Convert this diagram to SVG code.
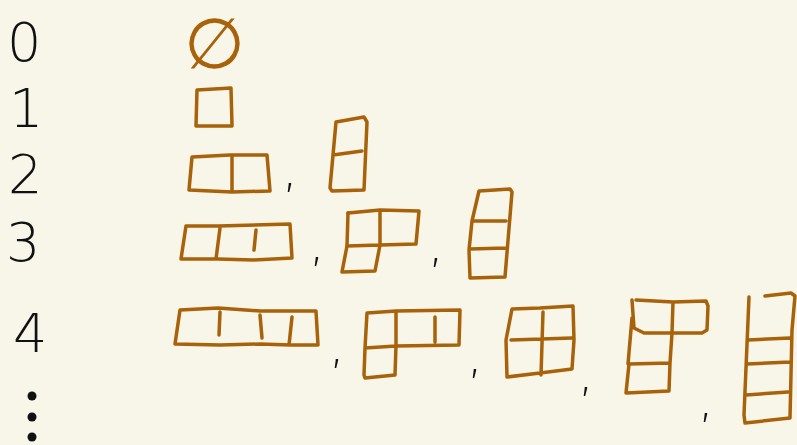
<svg xmlns="http://www.w3.org/2000/svg" width="797" height="445" viewBox="0 0 797 445">
<style>
.b{fill:none;stroke:#a8620a;stroke-width:3.5;stroke-linecap:round;stroke-linejoin:round}
.n{font-family:"DejaVu Sans","Liberation Sans",sans-serif;font-weight:300;fill:#111;font-size:54px}
.c{font-family:"DejaVu Sans","Liberation Sans",sans-serif;fill:#111;font-size:50px;font-weight:300}
.e{font-family:"DejaVu Sans","Liberation Sans",sans-serif;fill:#a8620a;font-size:70px;font-weight:200}
</style>
<rect width="797" height="445" fill="#f8f5e9"/>
<g id="labels">
<text class="n" x="7" y="61">0</text>
<text class="n" x="9" y="127">1</text>
<text class="n" x="8" y="193">2</text>
<text class="n" x="6" y="261">3</text>
<text class="n" x="13" y="352">4</text>
<circle cx="32" cy="396" r="4.5" fill="#111"/>
<circle cx="32" cy="417" r="4.5" fill="#111"/>
<circle cx="32" cy="437" r="4.5" fill="#111"/>
</g>
<g id="n0"><text class="e" x="214" y="68" text-anchor="middle">∅</text></g>
<g id="n1"><path class="b" d="M197,90 L231,88 L232,126 L196,126 Z"/></g>
<g id="n2a"><path class="b" d="M192,157 L230,155 L267,155 L270,191 L232,192 L189,190 Z M232,155 L232,192"/></g>
<g id="n2b"><path class="b" d="M336,122 L364,117 L367,122 L364,190 L332,191 L330,188 Z M333,155 L362,151"/></g>
<g id="n3a"><path class="b" d="M186,226 L218,226 L290,224 L292,258 L253,260 L218,259 L181,259 Z M220,228 L216,259 M256,230 L254,250"/></g>
<g id="n3b"><path class="b" d="M348,213 L380,210 L419,211 L416,244 L380,245 L347,246 L342,272 L375,271 L380,245 L380,210"/><path class="b" d="M348,213 L347,246"/></g>
<g id="n3c"><path class="b" d="M479,191 L510,189 L512,192 L505,277 L470,278 L469,250 L472,221 Z M472,221 L506,221 M470,249 L506,248"/></g>
<g id="n4a"><path class="b" d="M180,310 L218,308 L260,311 L316,311 L318,345 L290,345 L260,344 L220,345 L175,344 Z M220,312 L219,335 M260,315 L262,338 M292,317 L289,345"/></g>
<g id="n4b"><path class="b" d="M367,313 L396,311 L460,310 L459,345 L396,346 L365,348 L364,375 L365,378 L395,375 L396,346 L396,311 M367,313 L365,348 M435,317 L435,342"/></g>
<g id="n4c"><path class="b" d="M512,309 L540,308 L573,306 L574,340 L572,369 L540,373 L507,377 L506,340 Z M543,312 L541,375 M511,340 L572,338"/></g>
<g id="n4d"><path class="b" d="M636,300 L673,302 L706,301 L708,306 L707,330 L702,333 L672,333 L644,333 L634,328 L632,300 M673,302 L672,333 L670,363 L629,364 L626,393 L669,391 L670,363 M632,318 L628,364"/></g>
<g id="n4e"><path class="b" d="M749,297 L744,415 L745,423 L790,418 L792,330 L795,296 L791,293 L765,296 M748,340 L790,338 M747,364 L790,362 M746,395 L788,392"/></g>
<g id="commas">
<text class="c" x="282" y="186">,</text>
<text class="c" x="309" y="260">,</text>
<text class="c" x="428" y="261">,</text>
<text class="c" x="329" y="362">,</text>
<text class="c" x="467" y="372">,</text>
<text class="c" x="578" y="390">,</text>
<text class="c" x="698" y="416">,</text>
</g>
</svg>
